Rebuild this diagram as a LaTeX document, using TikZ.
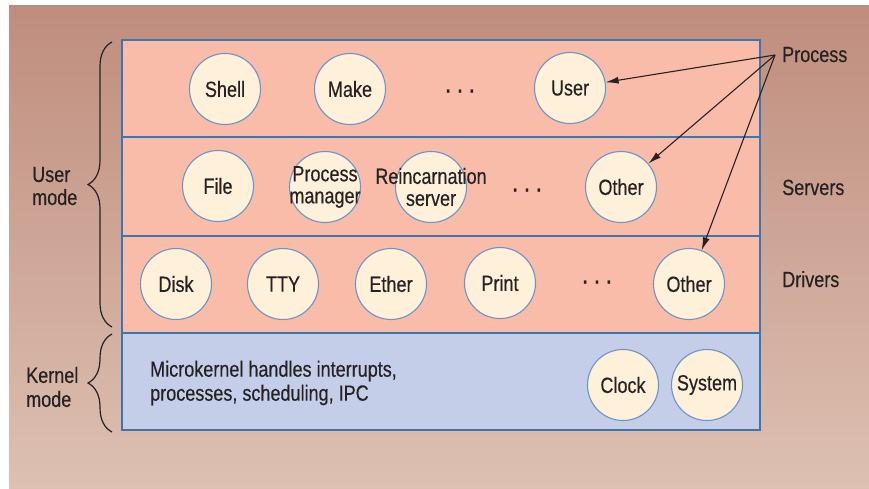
\documentclass[tikz,border=0pt]{standalone}
\usepackage{fontspec}
\setmainfont{Liberation Sans}[FakeStretch=0.82,FakeBold=0.35]
\usetikzlibrary{decorations.pathreplacing,arrows.meta}
\definecolor{bgtop}{HTML}{BF8D7D}
\definecolor{bgbot}{HTML}{DDC0B2}
\definecolor{pinkfill}{HTML}{F9BCA9}
\definecolor{bluefill}{HTML}{C4CEE8}
\definecolor{boxline}{HTML}{3B77AF}
\definecolor{cfill}{HTML}{FEF0D9}
\definecolor{cline}{HTML}{6B94C8}
\definecolor{ink}{HTML}{262223}
\begin{document}
\begin{tikzpicture}[x=1pt,y=-1pt,
 proc/.style={circle,draw=cline,line width=1.1pt,fill=cfill,minimum size=71pt,inner sep=0pt},
 lbl/.style={text=ink,font=\fontsize{22}{22}\selectfont,align=center,inner sep=0pt},
 side/.style={text=ink,font=\fontsize{22}{23}\selectfont,align=left,inner sep=0pt},
 dotsty/.style={text=ink,font=\fontsize{28}{28}\selectfont,inner sep=0pt},
 arr/.style={draw=ink,line width=1.1pt,-{Latex[length=13pt,width=7pt]}},
 brc/.style={draw=ink,line width=1.2pt,decorate,decoration={brace,amplitude=24pt}},
 rowline/.style={draw=boxline,line width=1.4pt}]

\useasboundingbox (0,0) rectangle (869,488);
\shade[top color=bgtop,bottom color=bgbot] (9,5) rectangle (869,488);

% layers
\fill[pinkfill] (122,40) rectangle (760,333);
\fill[bluefill] (122,333) rectangle (760,430);
\draw[rowline] (122,137) -- (760,137);
\draw[rowline] (122,236) -- (760,236);
\draw[rowline] (122,333) -- (760,333);
\draw[rowline] (122,40) rectangle (760,430);

% braces
\draw[brc] (112,327) -- (112,42);
\draw[brc] (112,432) -- (112,334);

% row 1
\node[proc] (shell) at (225,89) {};
\node[lbl] (shellT) at (shell) {Shell};
\node[proc] (make) at (350,89) {};
\node[lbl] (makeT) at (make) {Make};
\node[dotsty] (dots1) at (460,91) {.\hspace{5.5pt}.\hspace{5.5pt}.};
\node[proc] (user) at (570,88) {};
\node[lbl] (userT) at (user) {User};

% row 2
\node[proc] (file) at (218,186) {};
\node[lbl] (fileT) at (file) {File};
\node[proc] (pm) at (325,187) {};
\node[lbl] (pmT) at (pm) {Process\\manager};
\node[proc] (rs) at (431,187) {};
\node[lbl] (rsT) at (rs) {Reincarnation\\server};
\node[dotsty] (dots2) at (527,190) {.\hspace{5.5pt}.\hspace{5.5pt}.};
\node[proc] (oth1) at (621,187) {};
\node[lbl] (oth1T) at (oth1) {Other};

% row 3
\node[proc] (disk) at (176,284) {};
\node[lbl] (diskT) at (disk) {Disk};
\node[proc] (tty) at (283,284) {};
\node[lbl] (ttyT) at (tty) {TTY};
\node[proc] (ether) at (391,284) {};
\node[lbl] (etherT) at (ether) {Ether};
\node[proc] (print) at (500,283) {};
\node[lbl] (printT) at (print) {Print};
\node[dotsty] (dots3) at (597,282) {.\hspace{5.5pt}.\hspace{5.5pt}.};
\node[proc] (oth2) at (689,284) {};
\node[lbl] (oth2T) at (oth2) {Other};

% kernel
\node[proc] (clock) at (623,385) {};
\node[lbl] (clockT) at (clock) {Clock};
\node[proc] (system) at (707,385) {};
\node[lbl] (systemT) at (system) {System};
\node[side,anchor=west,font=\fontsize{22}{24}\selectfont] (mk) at (150,383) {Microkernel handles interrupts,\\processes, scheduling, IPC};

% side labels
\node[side,anchor=west] (um) at (32,186) {User\\mode};
\node[side,anchor=west,font=\fontsize{22}{24}\selectfont] (km) at (26,387) {Kernel\\mode};
\node[side,anchor=base west] (proclbl) at (782,62) {Process};
\node[side,anchor=base west] (servlbl) at (782,195) {Servers};
\node[side,anchor=base west] (drvlbl) at (782,287) {Drivers};

% arrows
\coordinate (pr) at (775,55);
\draw[arr] (pr) -- (user);
\draw[arr] (pr) -- (oth1);
\draw[arr] (pr) -- (oth2);
\end{tikzpicture}
\end{document}
